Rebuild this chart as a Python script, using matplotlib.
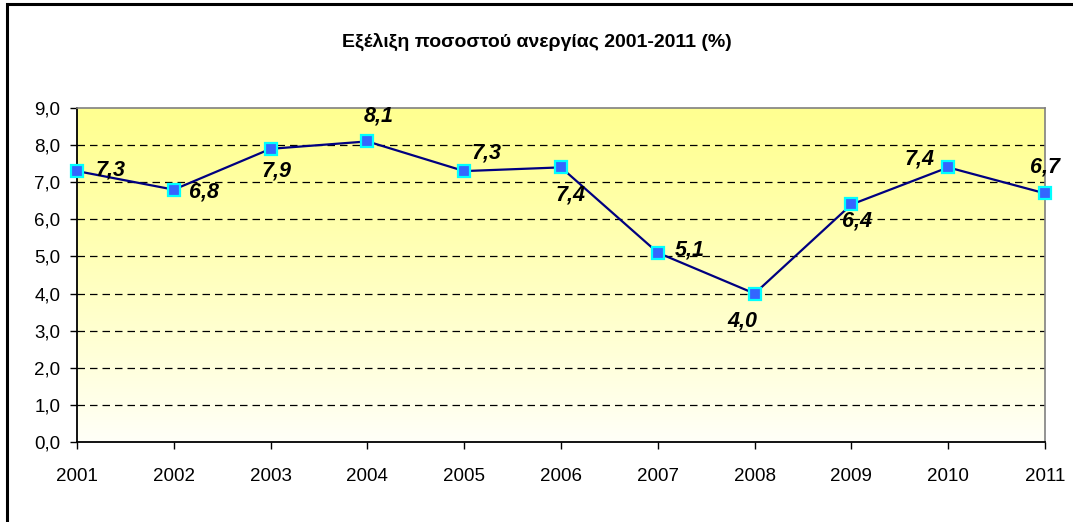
import matplotlib
matplotlib.use("Agg")
import matplotlib.pyplot as plt
import numpy as np
from matplotlib.patches import Rectangle

years = ["2001", "2002", "2003", "2004", "2005", "2006", "2007", "2008", "2009", "2010", "2011"]
rates = [7.3, 6.8, 7.9, 8.1, 7.3, 7.4, 5.1, 4.0, 6.4, 7.4, 6.7]
yticks = [0, 1, 2, 3, 4, 5, 6, 7, 8, 9]
# label offsets in points (dx, dy) per point
label_offsets = [(24, 1), (22, -2), (4, -16), (8, 18), (16, 13), (7, -20), (23, 2), (-9, -20), (4, -12), (-21, 6), (0, 19)]

plt.rcParams['font.family'] = ['Liberation Sans', 'DejaVu Sans']

fig = plt.figure(figsize=(10.73, 5.22), dpi=100)
W, H = 1073, 522
ax = fig.add_axes([77 / W, 1 - 442 / H, (1045 - 77) / W, (442 - 108) / H])

# gradient background
grad = np.linspace(0, 1, 256).reshape(-1, 1)
top = np.array([255, 255, 145]) / 255
bot = np.array([255, 255, 248]) / 255
g = grad ** 1.2
img = top[None, None, :] * (1 - g[:, :, None]) + bot[None, None, :] * g[:, :, None]
ax.imshow(img, extent=[0, len(years) - 1, 0, 9], aspect='auto', origin='upper', zorder=0)

x = np.arange(len(years))
ax.set_xlim(0, len(years) - 1)
ax.set_ylim(0, 9)

for yv in yticks[1:-1]:
    ax.axhline(yv, color='black', lw=0.9, ls=(0, (6, 4)), zorder=1)

ax.plot(x, rates, color='#000080', lw=1.6, zorder=3,
        marker='s', markersize=8, markerfacecolor='#3366FF',
        markeredgecolor='#00FFFF', markeredgewidth=1.6, clip_on=False)

for xi, v, (dx, dy) in zip(x, rates, label_offsets):
    ax.annotate(f"{v:.1f}".replace('.', ','), (xi, v), xytext=(dx, dy),
                textcoords='offset points', ha='center', va='center',
                fontsize=15.5, fontweight='bold', fontstyle='italic', zorder=4)

ax.set_yticks(yticks)
ax.set_yticklabels([f"{t:.1f}".replace('.', ',') for t in yticks])
ax.set_xticks(x)
ax.set_xticklabels(years)
ax.tick_params(axis='both', labelsize=13.5, length=5, width=1, direction='out', color='black')
ax.tick_params(axis='x', pad=14)
ax.tick_params(axis='y', pad=7)

for s in ['left', 'bottom']:
    ax.spines[s].set_color('black')
    ax.spines[s].set_linewidth(1.3)
for s in ['top', 'right']:
    ax.spines[s].set_color('#808080')
    ax.spines[s].set_linewidth(1.2)

fig.text(0.5, 1 - 42 / H, "Εξέλιξη ποσοστού ανεργίας 2001-2011 (%)",
         ha='center', va='center', fontsize=14, fontweight='bold')

# outer chart border (top and left visible)
fig.patches.append(Rectangle((7 / W, -0.05), 1.2, 1 - 4 / H + 0.05, transform=fig.transFigure,
                             fill=False, edgecolor='black', linewidth=2.2, zorder=10))

fig.savefig("out.png", dpi=100)
